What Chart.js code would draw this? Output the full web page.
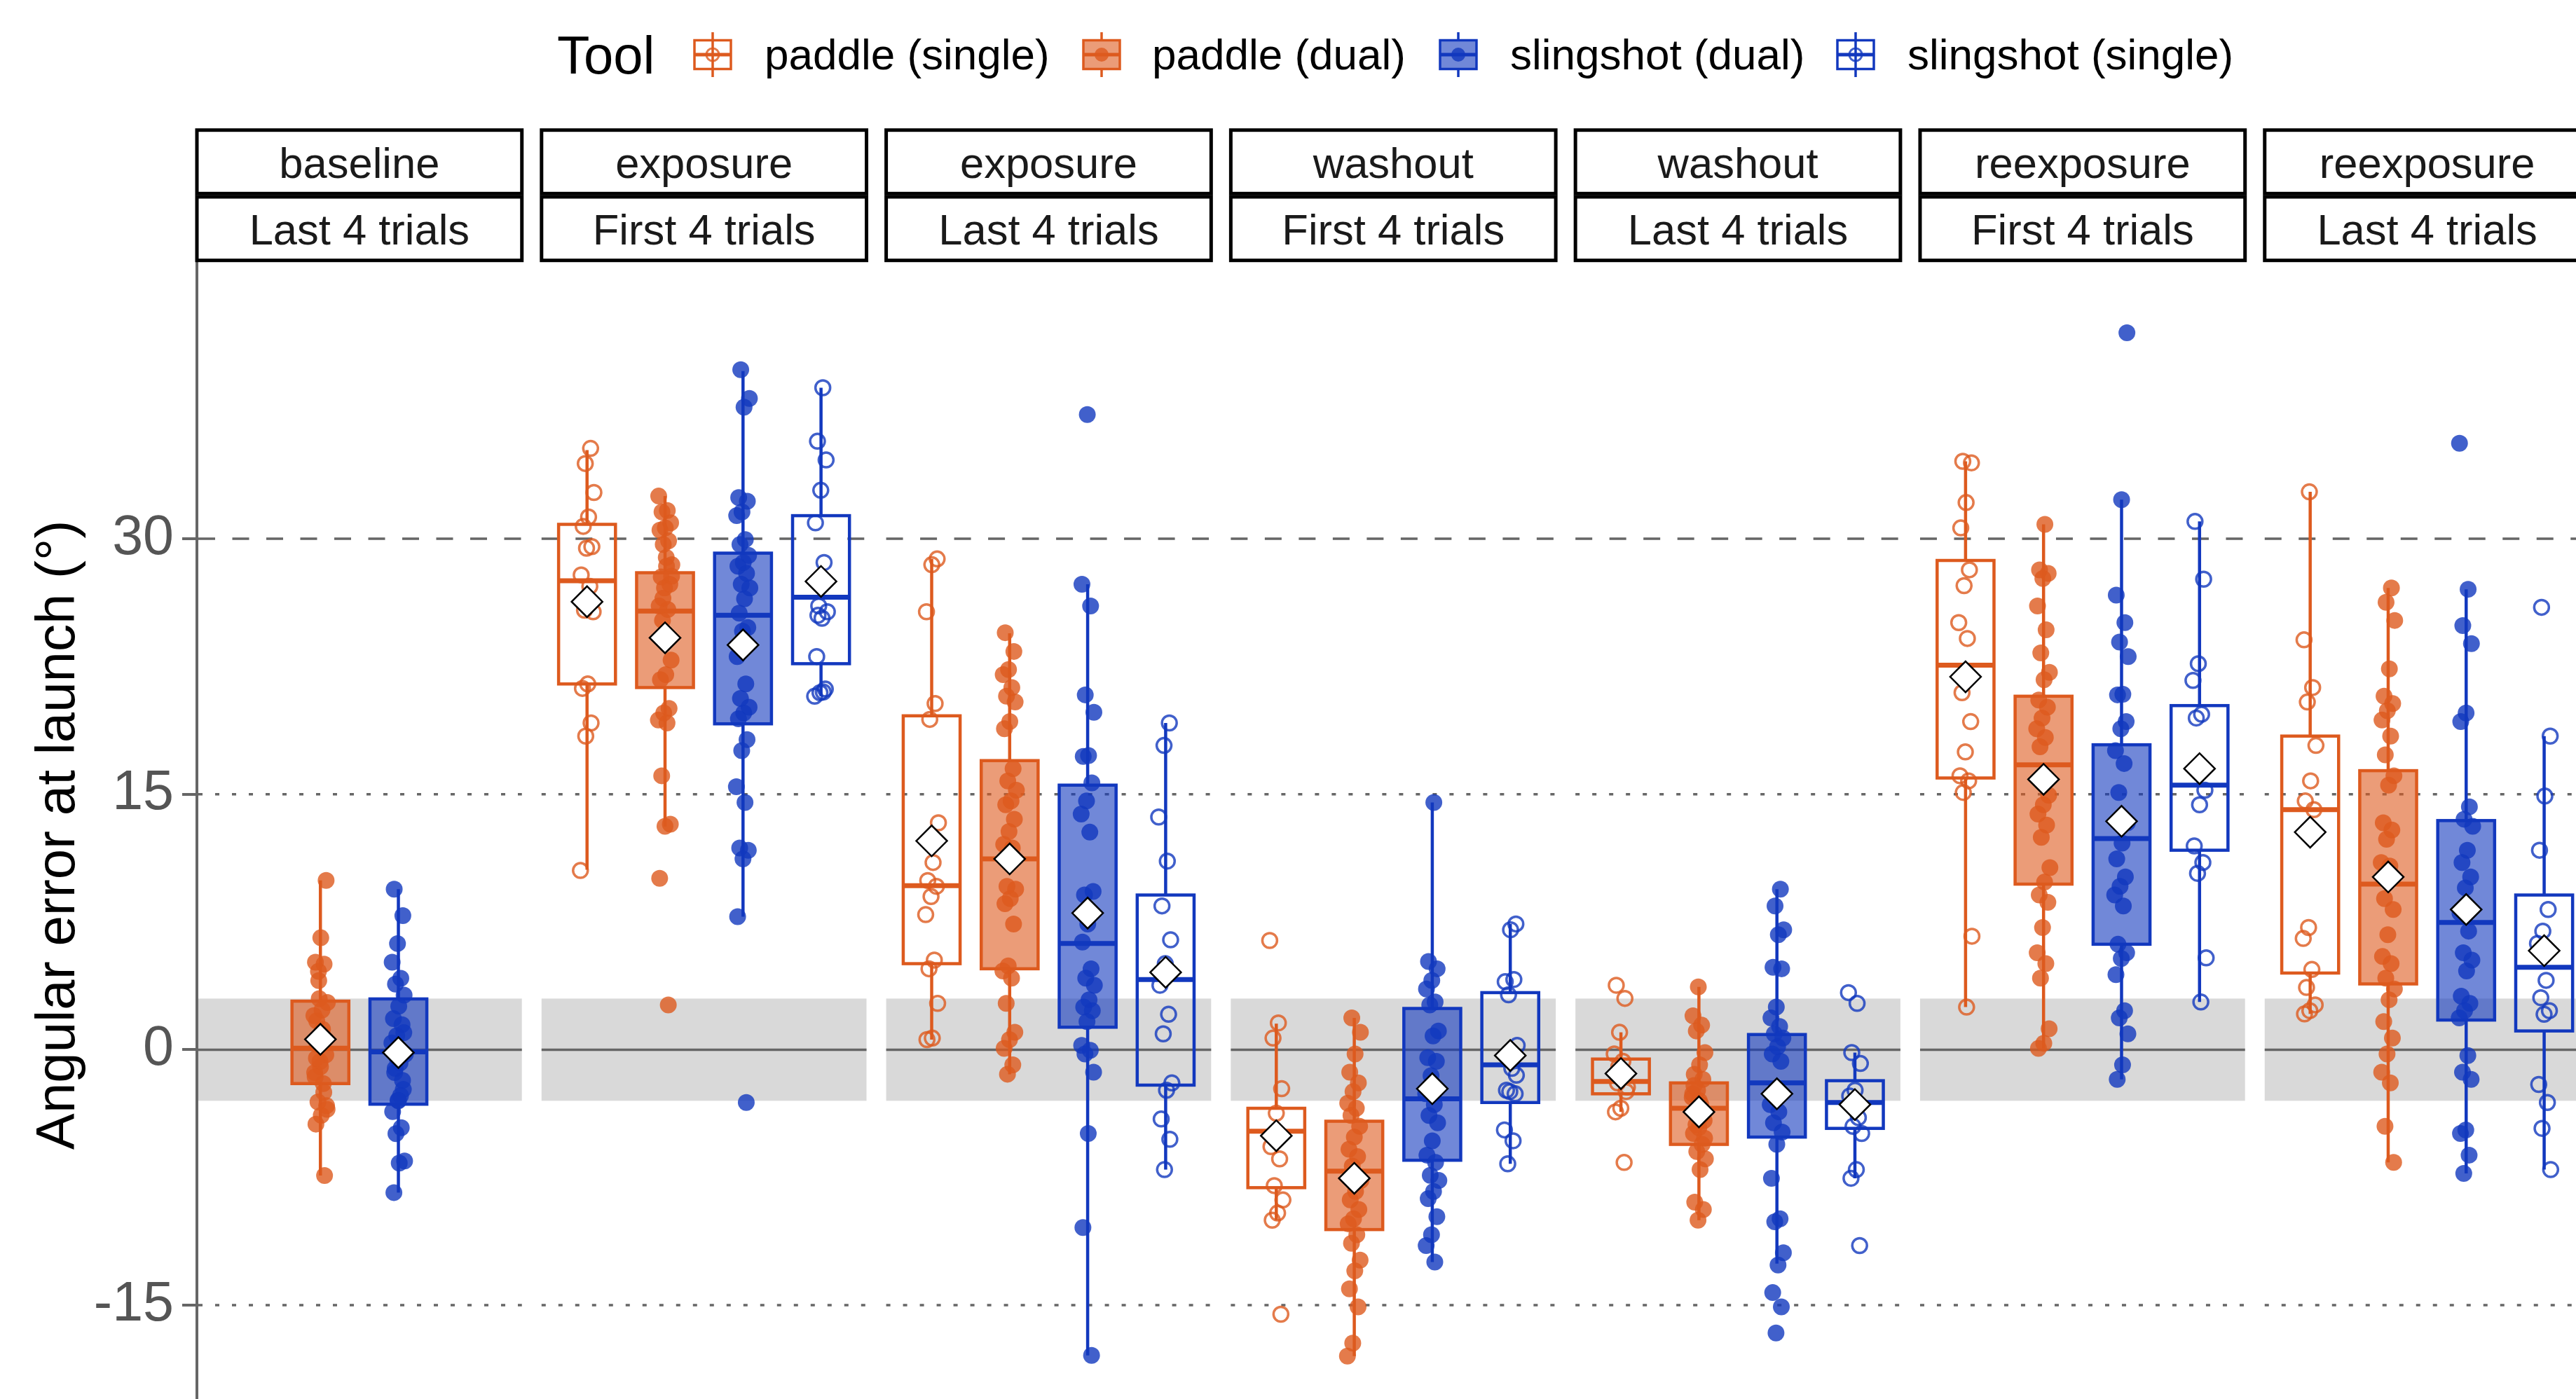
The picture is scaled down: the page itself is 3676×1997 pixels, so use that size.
<!DOCTYPE html>
<html>
<head>
<meta charset="utf-8">
<script src="https://cdn.jsdelivr.net/npm/chart.js@4.4.1/dist/chart.umd.min.js"></script>
<style>
html,body{margin:0;padding:0;background:#fff;overflow:hidden;width:3676px;height:1997px}
#wrap{position:relative;width:3676px;height:1997px;overflow:hidden;background:#fff}
#c{position:absolute;left:0;top:0}
</style>
</head>
<body>
<div id="wrap"><canvas id="c" width="3720" height="2100"></canvas></div>
<script>
// ---------------- DATA ----------------
const facetTop = ['baseline','exposure','exposure','washout','washout','reexposure','reexposure'];
const facetBottom = ['Last 4 trials','First 4 trials','Last 4 trials','First 4 trials','Last 4 trials','First 4 trials','Last 4 trials'];
const tools = ['paddle (single)','paddle (dual)','slingshot (dual)','slingshot (single)'];
const yTicks = [-15, 0, 15, 30];
const refSolid = [0];
const refDotted = [-15, 15];
const refDashed = [30];
const band = [-3, 3];

// individual participant values, one list per facet
const paddleSinglePts = [
  [],
  [35.3,34.41,32.71,31.27,30.72,29.53,29.44,27.87,27.2,25.8,25.71,21.47,21.21,19.18,18.41,10.52],
  [28.81,28.47,25.71,20.32,19.39,13.32,10.99,9.93,9.59,8.99,7.93,5.26,4.75,2.72,0.68,0.59],
  [6.41,1.57,0.68,-2.29,-3.73,-5.69,-6.41,-7.98,-8.82,-9.59,-10.01,-15.53],
  [3.78,3.01,1.02,-0.25,-0.68,-1.95,-2.46,-3.44,-3.65,-6.62,-1.0,-2.2],
  [34.54,34.45,32.12,30.63,28.17,27.24,25.07,24.14,20.96,19.26,17.48,16.08,15.78,15.1,6.66,2.5],
  [32.75,24.06,21.26,20.41,17.86,15.78,14.6,14.09,7.17,6.53,4.71,3.65,2.63,2.29,2.1]
];
const paddleDualPts = [
  [9.94,6.57,5.14,5.02,4.06,2.77,2.33,1.69,0.61,-0.69,-1.34,-1.99,-3.07,-3.29,-3.85,-4.37,-7.39,3.0,2.0,1.2,0.3,-0.3,-1.0,-1.6,-2.5,4.6,-3.5,0.9,-0.5],
  [32.5,31.65,31.57,30.93,30.63,30.5,29.87,29.66,28.47,28.38,27.75,27.32,27.11,26.05,25.84,25.2,22.87,22.02,21.72,20.03,19.77,19.35,19.18,16.08,13.24,13.11,10.06,2.63,26.5,27.8,28.9],
  [24.48,23.38,22.32,22.02,21.26,20.75,20.41,19.26,18.84,16.5,15.78,15.23,14.6,14.38,13.53,12.81,12.05,11.84,9.59,9.42,8.87,8.57,7.38,4.92,4.62,4.2,2.72,1.02,0.59,0.08,-0.89,-1.44],
  [1.87,1.02,-0.25,-1.32,-1.95,-2.46,-3.14,-3.44,-3.86,-4.5,-5.13,-5.85,-6.28,-6.83,-7.68,-8.32,-8.82,-9.38,-9.93,-10.22,-10.86,-11.37,-12.35,-12.98,-14.04,-15.1,-17.23,-17.99],
  [3.69,1.99,1.44,1.1,-0.17,-0.89,-1.44,-1.74,-2.38,-2.8,-3.22,-3.65,-4.16,-4.58,-4.92,-5.56,-5.98,-6.41,-7.04,-8.95,-9.38,-10.01,-2.6,-3.9,-4.4,-5.2,-3.0,-2.1],
  [30.84,28.17,27.96,27.66,26.05,24.65,23.29,22.15,21.72,20.53,20.11,19.47,18.84,18.33,17.78,14.93,14.38,13.83,13.19,12.47,10.69,9.84,9.08,8.65,7.17,5.69,5.05,4.2,1.23,0.38,0.08],
  [27.11,26.26,25.2,22.36,20.75,20.32,19.9,19.35,18.41,17.31,16.08,15.53,13.32,12.9,12.35,10.99,10.78,8.87,8.23,6.75,5.47,5.05,4.2,3.56,2.93,1.65,0.68,-0.25,-1.32,-1.95,-4.5,-6.62]
];
const slingDualPts = [
  [9.42,7.87,6.23,5.14,4.19,3.85,3.2,2.55,1.82,1.47,0.82,-0.26,-0.78,-1.34,-2.33,-2.98,-3.63,-4.58,-4.93,-6.53,-6.66,-8.39,-1.8,-0.5,0.4,-2.7,-1.1,1.0,-3.0],
  [39.92,38.23,37.72,32.41,32.2,31.57,31.35,29.95,29.66,29.02,28.6,28.38,27.96,27.32,27.11,26.47,25.63,24.78,24.57,23.08,21.47,20.62,20.11,19.77,19.43,18.2,17.56,15.44,14.51,11.84,11.71,11.2,7.81,-3.1],
  [37.29,27.32,26.05,20.83,19.81,17.27,17.22,15.66,14.6,13.83,12.77,9.08,9.29,7.38,6.32,4.75,4.2,3.78,2.93,2.5,2.29,1.65,0.25,-0.04,-0.25,-1.32,-4.92,-10.44,-17.95],
  [14.51,5.18,4.75,4.07,3.56,2.8,2.63,1.1,0.81,-0.47,-0.68,-1.53,-2.59,-3.22,-3.86,-4.29,-5.35,-6.19,-6.62,-7.38,-7.68,-8.32,-8.74,-9.8,-10.86,-11.5,-12.47],
  [9.42,8.44,7.04,6.75,4.84,4.75,2.5,1.87,1.36,0.93,0.68,0.17,-0.25,-0.68,-2.38,-3.22,-3.65,-4.29,-4.84,-5.56,-7.55,-9.93,-10.1,-11.92,-12.64,-14.26,-15.1,-16.63],
  [42.09,32.29,26.69,25.07,23.93,23.08,20.87,20.83,19.26,18.84,17.56,16.8,15.1,13.32,12.13,11.2,10.14,9.59,9.08,8.44,6.19,5.69,5.35,4.41,2.29,1.87,0.93,-0.89,-1.74],
  [35.6,27.03,24.9,23.84,19.77,19.26,14.26,13.53,13.11,11.71,10.99,10.14,9.5,8.02,6.96,5.69,5.26,4.62,3.14,2.72,2.29,1.87,-0.34,-1.32,-1.74,-4.71,-4.92,-6.19,-7.26]
];
const slingSinglePts = [
  [],
  [38.86,35.72,34.62,32.84,30.93,28.6,26.05,25.71,25.33,23.08,21.17,20.96,20.75,21.0,25.5],
  [19.18,17.86,13.66,11.07,8.44,6.45,5.05,3.78,2.08,0.93,-1.95,-2.38,-4.07,-5.26,-7.04],
  [7.38,7.04,3.99,4.12,3.22,0.25,-1.1,-2.38,-2.59,-2.46,-4.71,-5.35,-6.7,-1.5],
  [3.35,2.72,-0.17,-0.81,-2.38,-2.72,-3.99,-4.5,-4.92,-7.04,-7.55,-11.5],
  [31.01,27.62,22.66,21.68,19.69,19.47,15.23,14.38,11.96,10.99,10.35,5.39,2.8],
  [25.97,18.41,14.89,11.71,8.23,6.96,6.24,4.07,3.05,2.29,2.08,-2.04,-3.1,-4.62,-7.04]
];

// box statistics: [lower whisker, Q1, median, Q3, upper whisker]
const paddleSingleBox = [null,[10.56,21.47,27.53,30.84,35.2],[0.59,5.05,9.63,19.6,28.81],[-10.01,-8.1,-4.79,-3.44,1.53],[-3.65,-2.59,-1.87,-0.55,1.02],[2.5,15.95,22.57,28.72,34.54],[2.1,4.5,14.09,18.41,32.75]];
const paddleDualBox = [[-7.39,-1.99,0.09,2.85,9.94],[13.1,21.26,25.75,28.0,32.5],[-1.44,4.75,11.2,16.97,24.44],[-17.99,-10.56,-7.13,-4.2,1.87],[-10.01,-5.56,-3.44,-1.95,3.69],[0.08,9.72,16.72,20.75,30.84],[-6.62,3.86,9.72,16.38,27.11]];
const slingDualBox = [[-8.39,-3.2,-0.13,2.98,9.42],[7.81,19.13,25.5,29.15,39.84],[-17.95,1.32,6.24,15.53,27.32],[-12.47,-6.49,-2.88,2.42,14.51],[-12.56,-5.13,-1.95,0.89,9.42],[-1.74,6.19,12.39,17.9,32.29],[-7.26,1.74,7.47,13.45,27.03]];
const slingSingleBox = [null,[20.75,22.66,26.56,31.35,38.86],[-7.04,-2.08,4.12,9.08,19.18],[-6.7,-3.1,-0.89,3.35,7.38],[-7.55,-4.62,-3.1,-1.82,-0.17],[2.8,11.71,15.53,20.2,31.01],[-7.04,1.1,4.84,9.08,18.41]];

// group means (diamonds)
const paddleSingleMean = [null,26.3,12.26,-5.05,-1.4,21.89,12.77];
const paddleDualMean = [0.61,24.18,11.2,-7.55,-3.65,15.87,10.14];
const slingDualMean = [-0.17,23.76,8.02,-2.29,-2.59,13.41,8.23];
const slingSingleMean = [null,27.49,4.54,-0.34,-3.22,16.5,5.81];

// ---------------- STYLE / LAYOUT ----------------
const FONT = "'Liberation Sans', Arial, Helvetica, sans-serif";
const PITCH = 1.0605;           // facet pitch in x units (facet width = 1)
const SLOT = [0.14, 0.38, 0.62, 0.86];
const HALF = 0.0875;            // half box width
const JIT = 0.0215;             // jitter half-range
const RGB = [[221,90,30],[221,90,30],[18,56,190],[18,56,190]];
const FILLED = [false, true, true, false];
const rgba = (c,a) => `rgba(${c[0]},${c[1]},${c[2]},${a})`;

const PTS = [paddleSinglePts, paddleDualPts, slingDualPts, slingSinglePts];
const BOX = [paddleSingleBox, paddleDualBox, slingDualBox, slingSingleBox];
const MEAN = [paddleSingleMean, paddleDualMean, slingDualMean, slingSingleMean];
const nF = facetTop.length;

function jit(k, t, f) {
  const u = ((k + 1) * 0.6180339887 + f * 0.137 + t * 0.291) % 1;
  return (u - 0.5) * 2 * JIT;
}

const datasets = tools.map((name, t) => ({
  label: name,
  data: PTS[t].flatMap((vals, f) => vals.map((v, k) => ({x: f * PITCH + SLOT[t] + jit(k, t, f), y: v}))),
  pointStyle: 'circle',
  pointRadius: FILLED[t] ? 12 : 10.5,
  pointBorderWidth: FILLED[t] ? 0 : 3.5,
  pointBackgroundColor: FILLED[t] ? rgba(RGB[t], 0.8) : 'rgba(0,0,0,0)',
  pointBorderColor: rgba(RGB[t], 0.8),
  order: 1
}));
const meanData = [];
MEAN.forEach((arr, t) => arr.forEach((m, f) => { if (m !== null) meanData.push({x: f * PITCH + SLOT[t], y: m}); }));
datasets.push({
  label: 'mean', data: meanData, pointStyle: 'rectRot', pointRadius: 22,
  pointBackgroundColor: '#ffffff', pointBorderColor: '#000000', pointBorderWidth: 2.5, order: 0
});

function hline(ctx, x1, x2, yy) { ctx.beginPath(); ctx.moveTo(x1, yy); ctx.lineTo(x2, yy); ctx.stroke(); }
function vline(ctx, xx, y1, y2) { ctx.beginPath(); ctx.moveTo(xx, y1); ctx.lineTo(xx, y2); ctx.stroke(); }

const panelPlugin = {
  id: 'panels',
  beforeDatasetsDraw(chart) {
    const {ctx, chartArea, scales: {x, y}} = chart;
    ctx.save();
    for (let f = 0; f < nF; f++) {
      const l = Math.max(x.getPixelForValue(f * PITCH), chartArea.left + 2);
      const r = x.getPixelForValue(f * PITCH + 1);
      ctx.fillStyle = '#d9d9d9';
      const yt = y.getPixelForValue(band[1]), yb = y.getPixelForValue(band[0]);
      ctx.fillRect(l, yt, r - l, yb - yt);
      ctx.strokeStyle = '#666666';
      ctx.lineWidth = 3.5;
      ctx.setLineDash([]);
      refSolid.forEach(v => hline(ctx, l, r, y.getPixelForValue(v)));
      ctx.setLineDash([6, 18]);
      refDotted.forEach(v => hline(ctx, l, r, y.getPixelForValue(v)));
      ctx.setLineDash([24, 24.5]);
      refDashed.forEach(v => hline(ctx, l, r, y.getPixelForValue(v)));
    }
    ctx.setLineDash([]);
    // boxplots
    BOX.forEach((arr, t) => arr.forEach((b, f) => {
      if (!b) return;
      const cx = x.getPixelForValue(f * PITCH + SLOT[t]);
      const xl = x.getPixelForValue(f * PITCH + SLOT[t] - HALF);
      const xr = x.getPixelForValue(f * PITCH + SLOT[t] + HALF);
      const [lw, q1, md, q3, uw] = b.map(v => y.getPixelForValue(v));
      const col = rgba(RGB[t], 1);
      ctx.strokeStyle = col;
      ctx.lineWidth = 4.5;
      vline(ctx, cx, q3, uw);
      vline(ctx, cx, q1, lw);
      if (FILLED[t]) { ctx.fillStyle = rgba(RGB[t], 0.6); ctx.fillRect(xl, q3, xr - xl, q1 - q3); }
      ctx.strokeRect(xl, q3, xr - xl, q1 - q3);
      ctx.lineWidth = 7;
      hline(ctx, xl, xr, md);
    }));
    ctx.restore();
  },
  afterDraw(chart) {
    const {ctx, scales: {x}} = chart;
    ctx.save();
    // facet strips
    for (let f = 0; f < nF; f++) {
      const l = x.getPixelForValue(f * PITCH), r = x.getPixelForValue(f * PITCH + 1);
      ctx.fillStyle = '#ffffff';
      ctx.fillRect(l, 185.7, r - l, 90.6);
      ctx.fillRect(l, 281, r - l, 90.7);
      ctx.strokeStyle = '#000000';
      ctx.lineWidth = 5;
      ctx.strokeRect(l, 185.7, r - l, 90.6);
      ctx.strokeRect(l, 281, r - l, 90.7);
      ctx.fillStyle = '#1a1a1a';
      ctx.font = `61.5px ${FONT}`;
      ctx.textAlign = 'center';
      ctx.textBaseline = 'middle';
      ctx.fillText(facetTop[f], (l + r) / 2, 237);
      ctx.fillText(facetBottom[f], (l + r) / 2, 332);
    }
    // legend
    const cy = 78;
    ctx.fillStyle = '#000000';
    ctx.textAlign = 'left';
    ctx.textBaseline = 'middle';
    ctx.font = `76px ${FONT}`;
    ctx.fillText('Tool', 795, 84);
    const keyX = [1017, 1572, 2081, 2648];
    const labX = [1091, 1644, 2155, 2722];
    tools.forEach((name, t) => {
      const kx = keyX[t];
      const col = rgba(RGB[t], 1);
      ctx.strokeStyle = col;
      ctx.lineWidth = 3.5;
      vline(ctx, kx, cy - 32, cy + 32);
      if (FILLED[t]) { ctx.fillStyle = '#ffffff'; ctx.fillRect(kx - 26, cy - 20.5, 52, 41); ctx.fillStyle = rgba(RGB[t], 0.6); ctx.fillRect(kx - 26, cy - 20.5, 52, 41); }
      else { ctx.fillStyle = '#ffffff'; ctx.fillRect(kx - 26, cy - 20.5, 52, 41); vline(ctx, kx, cy - 20.5, cy + 20.5); }
      ctx.strokeRect(kx - 26, cy - 20.5, 52, 41);
      ctx.lineWidth = 5;
      hline(ctx, kx - 26, kx + 26, cy);
      ctx.beginPath();
      ctx.arc(kx, cy, FILLED[t] ? 10 : 9, 0, Math.PI * 2);
      if (FILLED[t]) { ctx.fillStyle = rgba(RGB[t], 0.8); ctx.fill(); }
      else { ctx.lineWidth = 3; ctx.strokeStyle = rgba(RGB[t], 0.8); ctx.stroke(); }
      ctx.fillStyle = '#000000';
      ctx.font = `62px ${FONT}`;
      ctx.fillText(name, labX[t], 82);
    });
    ctx.restore();
  }
};

new Chart(document.getElementById('c'), {
  type: 'scatter',
  data: {datasets},
  options: {
    responsive: false,
    animation: false,
    events: [],
    layout: {padding: {top: 375, left: 0, right: 21, bottom: 91}},
    plugins: {legend: {display: false}, tooltip: {enabled: false}},
    scales: {
      x: {type: 'linear', min: 0, max: (nF - 1) * PITCH + 1, display: false},
      y: {
        type: 'linear', min: -21, max: 46.2,
        afterBuildTicks: s => { s.ticks = yTicks.map(v => ({value: v})); },
        afterFit: s => { s.width = 281; },
        ticks: {font: {family: FONT, size: 79}, color: '#555555', padding: 12, callback: v => String(v)},
        grid: {drawOnChartArea: false, drawTicks: true, tickLength: 21, color: '#666666', lineWidth: 4},
        border: {display: true, color: '#666666', width: 4},
        title: {display: true, text: 'Angular error at launch (°)', color: '#000000',
                font: {family: FONT, size: 78}, padding: {top: 38, bottom: 0}}
      }
    }
  },
  plugins: [panelPlugin]
});
</script>
</body>
</html>
